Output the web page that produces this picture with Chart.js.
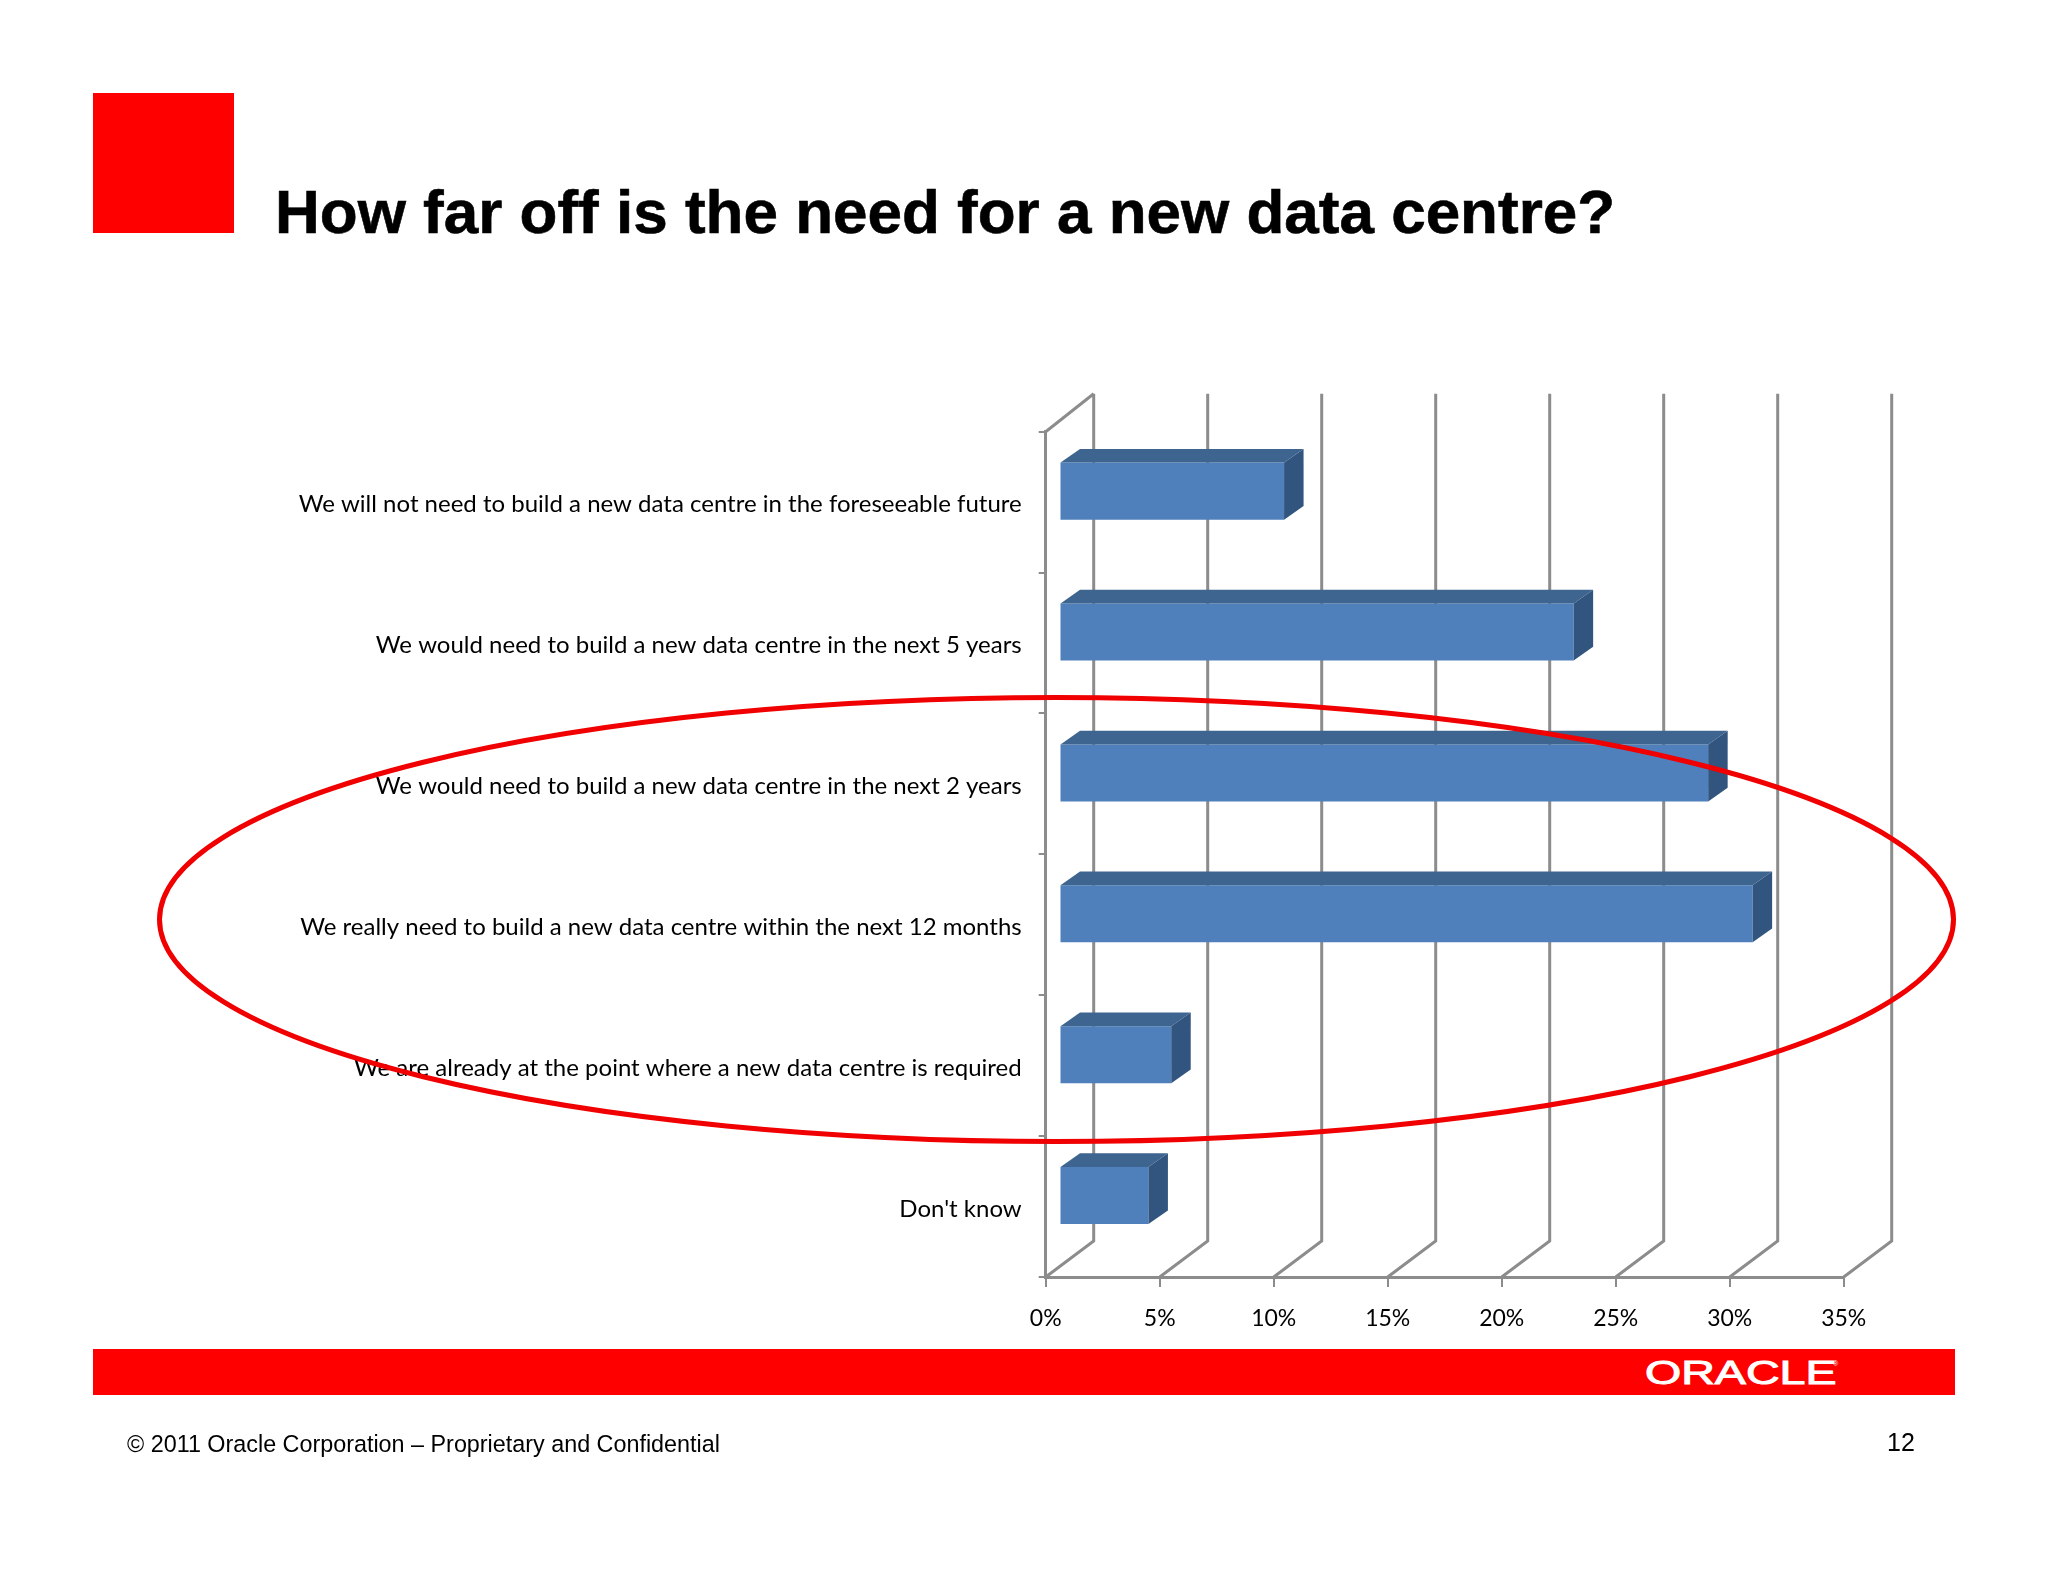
<!DOCTYPE html>
<html lang="en">
<head>
    <meta charset="UTF-8">
    <title>How far off is the need for a new data centre?</title>
    <script src="https://cdn.jsdelivr.net/npm/chart.js@4.4.0/dist/chart.umd.min.js"></script>
    <style>
        body { margin: 0; background: #fff; width: 2048px; height: 1582px; overflow: hidden; position: relative; }
        canvas { position: absolute; left: 0; top: 0; }
        .abs { position: absolute; white-space: nowrap; }
        #square { left: 92.5px; top: 92.7px; width: 141.5px; height: 140px; background: #ff0000; }
        #title { left: 275px; top: 177px; font: bold 62px/70px "Liberation Sans", Arial, sans-serif; color: #000; -webkit-text-stroke: 0.6px #000; }
        #band { left: 92.5px; top: 1349px; width: 1862.5px; height: 46px; background: #ff0000; }
        #logo { left: 1645px; top: 1354px; font: 34px/36px "Liberation Sans", Arial, sans-serif; color: #fff; -webkit-text-stroke: 1px #fff; transform-origin: 0 0; transform: scaleX(1.37); }
        #reg { left: 1833px; top: 1360px; font: 7px/8px "Liberation Sans", Arial, sans-serif; color: #fff; }
        #footer { left: 127px; top: 1430px; font: 23.35px/28px "Liberation Sans", Arial, sans-serif; color: #000; }
        #page { left: 1887px; top: 1428px; font: 25px/28px "Liberation Sans", Arial, sans-serif; color: #000; }
    </style>
</head>
<body>
    <div class="abs" id="square"></div>
    <div class="abs" id="title">How far off is the need for a new data centre?</div>
    <canvas id="chart" width="2048" height="1582"></canvas>
    <div class="abs" id="band"></div>
    <div class="abs" id="logo">ORACLE</div>
    <div class="abs" id="reg">®</div>
    <div class="abs" id="footer">© 2011 Oracle Corporation – Proprietary and Confidential</div>
    <div class="abs" id="page">12</div>

    <script>
        const categories = [
            "We will not need to build a new data centre in the foreseeable future",
            "We would need to build a new data centre in the next 5 years",
            "We would need to build a new data centre in the next 2 years",
            "We really need to build a new data centre within the next 12 months",
            "We are already at the point where a new data centre is required",
            "Don't know"
        ];
        const shares = [9.85, 22.55, 28.45, 30.4, 4.9, 3.9];
        const xTickLabels = ["0%", "5%", "10%", "15%", "20%", "25%", "30%", "35%"];

        const axisGrey = "#8c8c8c";

        // Fake 3D look of the old office chart: back wall, bar depth, hand drawn ellipse
        const depthPlugin = {
            id: "depth",
            beforeDatasetsDraw(chart) {
                const ctx = chart.ctx, area = chart.chartArea, xs = chart.scales.x;
                ctx.save();
                ctx.strokeStyle = axisGrey;
                ctx.lineWidth = 3;
                xs.ticks.forEach(function(t, i) {
                    const x = xs.getPixelForTick(i);
                    ctx.beginPath();
                    ctx.moveTo(x, area.bottom);
                    ctx.lineTo(x + 48, area.bottom - 36);
                    ctx.lineTo(x + 48, area.top - 38);
                    ctx.stroke();
                });
                ctx.beginPath();
                ctx.moveTo(area.left, area.top);
                ctx.lineTo(area.left + 48, area.top - 38);
                ctx.stroke();
                ctx.restore();
                // bars stand a little way into the floor
                ctx.save();
                ctx.translate(13.8, -11);
            },
            afterDatasetsDraw(chart) {
                const ctx = chart.ctx;
                chart.getDatasetMeta(0).data.forEach(function(bar) {
                    const top = bar.y - bar.height / 2, bottom = bar.y + bar.height / 2;
                    ctx.fillStyle = "#3e658f";
                    ctx.beginPath();
                    ctx.moveTo(bar.base, top);
                    ctx.lineTo(bar.base + 19.5, top - 13.7);
                    ctx.lineTo(bar.x + 19.5, top - 13.7);
                    ctx.lineTo(bar.x, top);
                    ctx.closePath();
                    ctx.fill();
                    ctx.fillStyle = "#32557f";
                    ctx.beginPath();
                    ctx.moveTo(bar.x, top);
                    ctx.lineTo(bar.x + 19.5, top - 13.7);
                    ctx.lineTo(bar.x + 19.5, bottom - 13.7);
                    ctx.lineTo(bar.x, bottom);
                    ctx.closePath();
                    ctx.fill();
                });
                ctx.restore();
            },
            afterDraw(chart) {
                const ctx = chart.ctx;
                ctx.save();
                ctx.strokeStyle = "#f00000";
                ctx.lineWidth = 5;
                ctx.beginPath();
                ctx.ellipse(1056.5, 919.5, 897, 222, 0, 0, Math.PI * 2);
                ctx.stroke();
                ctx.restore();
            }
        };

        new Chart(document.getElementById("chart"), {
            type: "bar",
            data: {
                labels: categories,
                datasets: [{
                    data: shares,
                    backgroundColor: "#4f80bc",
                    barPercentage: 0.405,
                    categoryPercentage: 1,
                    clip: false
                }]
            },
            options: {
                indexAxis: "y",
                responsive: false,
                animation: false,
                layout: { padding: { top: 431.7, right: 204.3, left: 0, bottom: 0 } },
                plugins: { legend: { display: false }, tooltip: { enabled: false } },
                scales: {
                    x: {
                        min: 0,
                        max: 35,
                        afterFit(axis) { axis.height = 305; },
                        afterBuildTicks(axis) {
                            axis.ticks = xTickLabels.map((_, i) => ({ value: i * 5 }));
                        },
                        grid: { drawOnChartArea: false, color: axisGrey, lineWidth: 2, tickLength: 10 },
                        border: { color: axisGrey, width: 3 },
                        ticks: {
                            autoSkip: false,
                            maxRotation: 0,
                            padding: 18,
                            color: "#000",
                            font: { family: "Lato", size: 23 },
                            callback: (v, i) => xTickLabels[i]
                        }
                    },
                    y: {
                        afterFit(axis) { axis.width = 1045.7; },
                        grid: { drawOnChartArea: false, color: axisGrey, lineWidth: 2, tickLength: 7 },
                        border: { color: axisGrey, width: 3 },
                        ticks: {
                            autoSkip: false,
                            padding: 17,
                            labelOffset: 2.5,
                            color: "#000",
                            font: { family: "Lato", size: 24 }
                        }
                    }
                }
            },
            plugins: [depthPlugin]
        });
    </script>
</body>
</html>
